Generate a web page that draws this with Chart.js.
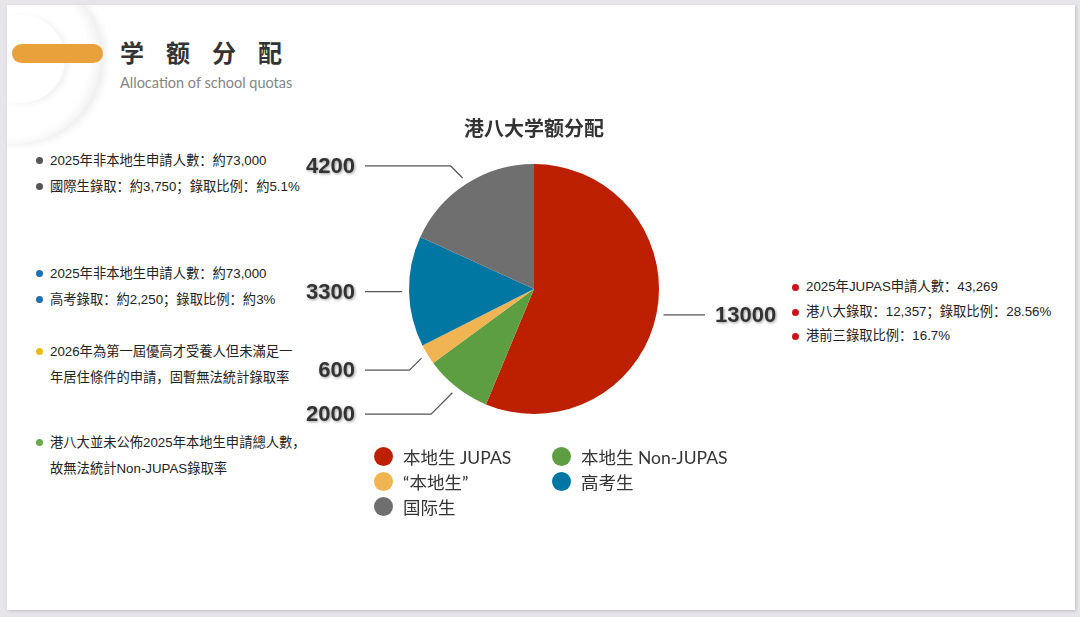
<!DOCTYPE html>
<html>
<head>
<meta charset="utf-8">
<script src="https://cdn.jsdelivr.net/npm/chart.js@4.4.1/dist/chart.umd.min.js"></script>
<style>
  html, body { margin: 0; padding: 0; }
  body { width: 1080px; height: 617px; background: #e7e5ea; position: relative; overflow: hidden; }
  .slide { position: absolute; left: 7px; top: 5px; width: 1068px; height: 605px; background: #fff;
    box-shadow: 1px 1px 3px rgba(0,0,0,0.18); overflow: hidden; }
  .ring { position: absolute; border-radius: 50%; }
  .pill { position: absolute; left: 5px; top: 39px; width: 91px; height: 19px; border-radius: 10px; background: #e9a23b; }
  .head { position: absolute; left: 113px; top: 32px; font: bold 24px "Noto Sans CJK SC", sans-serif;
    color: #333; letter-spacing: 22px; line-height: 30px; }
  .sub { position: absolute; left: 113px; top: 69px; font: 14.5px Lato, "Noto Sans", sans-serif; color: #858585; }
  .note { position: absolute; font: 13.3px "Liberation Sans", "Noto Sans CJK SC", sans-serif; color: #222; line-height: 25.5px; }
  .note div { position: relative; padding-left: 14px; white-space: nowrap; }
  .note div.b::before { content: ""; position: absolute; left: 0; top: 9px; width: 7px; height: 7px; border-radius: 50%; background: var(--c); }
  #chartBox { position: absolute; left: 0; top: 0; width: 1080px; height: 617px; }
  .legend { position: absolute; left: 374px; top: 446px; display: grid; grid-template-columns: 178px 190px;
    row-gap: 5px; font: 17.5px Lato, "Noto Sans CJK SC", sans-serif; color: #333; }
  .legend span { display: flex; align-items: center; height: 20px; white-space: nowrap; }
  .legend i { display: inline-block; width: 19px; height: 19px; border-radius: 50%; margin-right: 10px; }
</style>
</head>
<body>
<div class="slide">
  <div class="ring" style="left:-78px;top:-33px;width:172px;height:172px;box-shadow:inset -6px 0 8px rgba(0,0,0,0.05), 5px 1px 7px rgba(0,0,0,0.07);"></div>
  <div class="ring" style="left:-30px;top:10px;width:88px;height:88px;box-shadow:4px 1px 6px rgba(0,0,0,0.06);"></div>
  <div class="pill"></div>
  <div class="head">学额分配</div>
  <div class="sub">Allocation of school quotas</div>
</div>

<div class="note" style="left:36px;top:148px;">
  <div class="b" style="--c:#555">2025年非本地生申請人數：約73,000</div>
  <div class="b" style="--c:#555">國際生錄取：約3,750；錄取比例：約5.1%</div>
</div>
<div class="note" style="left:36px;top:261px;">
  <div class="b" style="--c:#1f6fb4">2025年非本地生申請人數：約73,000</div>
  <div class="b" style="--c:#1f6fb4">高考錄取：約2,250；錄取比例：約3%</div>
</div>
<div class="note" style="left:36px;top:339px;">
  <div class="b" style="--c:#f2bb14">2026年為第一屆優高才受養人但未滿足一</div>
  <div>年居住條件的申請，固暫無法統計錄取率</div>
</div>
<div class="note" style="left:36px;top:430px;">
  <div class="b" style="--c:#6aaa4b">港八大並未公佈2025年本地生申請總人數，</div>
  <div>故無法統計Non-JUPAS錄取率</div>
</div>
<div class="note" style="left:792px;top:275px;line-height:24.5px;">
  <div class="b" style="--c:#c8141c">2025年JUPAS申請人數：43,269</div>
  <div class="b" style="--c:#c8141c">港八大錄取：12,357；錄取比例：28.56%</div>
  <div class="b" style="--c:#c8141c">港前三錄取比例：16.7%</div>
</div>

<div id="chartBox"><canvas id="pie"></canvas></div>
<div class="legend" id="legend"></div>

<script>
const labels = ['本地生 JUPAS', '本地生 Non-JUPAS', '“本地生”', '高考生', '国际生'];
const values = [13000, 2000, 600, 3300, 4200];
const colors = ['#bd2000', '#5e9e42', '#f1b452', '#0077a3', '#6f6f6f'];

// leader lines with the value labels, lower label pushed down when too close
const leaderLabels = {
  id: 'leaderLabels',
  afterDatasetsDraw(chart) {
    const ctx = chart.ctx;
    const arcs = chart.getDatasetMeta(0).data;
    const items = arcs.map((arc, i) => {
      const r = arc.outerRadius;
      const mid = (arc.startAngle + arc.endAngle) / 2;
      const cos = Math.cos(mid), sin = Math.sin(mid);
      const ax = arc.x + (r + 7) * cos, ay = arc.y + (r + 7) * sin;
      const bend = Math.abs(sin) > 0.3;
      return { i, arc, ax, ay, bend, right: cos > 0, ly: bend ? ay + 12 * Math.sign(sin) : ay };
    });
    const minGap = 44;
    [true, false].forEach(side => {
      const list = items.filter(it => it.right === side).sort((a, b) => a.ly - b.ly);
      for (let k = 1; k < list.length; k++) {
        if (list[k].ly - list[k - 1].ly < minGap) list[k].ly = list[k - 1].ly + minGap;
      }
    });
    items.forEach(it => {
      const { arc, ax, ay, right } = it;
      const r = arc.outerRadius;
      const endX = right ? arc.x + r + 46 : arc.x - r - 44;
      ctx.save();
      ctx.strokeStyle = '#555';
      ctx.lineWidth = 1.2;
      ctx.beginPath();
      ctx.moveTo(ax, ay);
      if (it.bend) {
        const dy = Math.abs(it.ly - ay);
        ctx.lineTo(ax + (right ? dy : -dy), it.ly);
      }
      ctx.lineTo(endX, it.ly);
      ctx.stroke();
      ctx.font = 'bold 22px "Liberation Sans", Arial, sans-serif';
      ctx.fillStyle = '#333';
      ctx.textBaseline = 'middle';
      ctx.textAlign = right ? 'left' : 'right';
      ctx.shadowColor = 'rgba(0,0,0,0.4)';
      ctx.shadowBlur = 3;
      ctx.shadowOffsetX = 1;
      ctx.shadowOffsetY = 1;
      ctx.fillText(String(values[it.i]), right ? endX + 10 : endX - 10, it.ly + 1);
      ctx.restore();
    });
  }
};

new Chart(document.getElementById('pie'), {
  type: 'pie',
  data: {
    labels,
    datasets: [{ data: values, backgroundColor: colors, borderWidth: 0 }],
  },
  options: {
    responsive: true,
    maintainAspectRatio: false,
    animation: false,
    layout: { padding: { left: 409, right: 421, top: 116, bottom: 203 } },
    plugins: {
      legend: { display: false },
      tooltip: { enabled: false },
      title: {
        display: true,
        text: '港八大学额分配',
        color: '#333',
        font: { family: '"Noto Sans CJK SC", sans-serif', size: 20, weight: 'bold', lineHeight: 1.2 },
        padding: { top: 0, bottom: 24 },
      },
    },
  },
  plugins: [leaderLabels],
});

// html legend in two columns
const legend = document.getElementById('legend');
labels.forEach((l, i) => {
  const s = document.createElement('span');
  s.innerHTML = '<i style="background:' + colors[i] + '"></i>' + l;
  legend.appendChild(s);
});
</script>
</body>
</html>
